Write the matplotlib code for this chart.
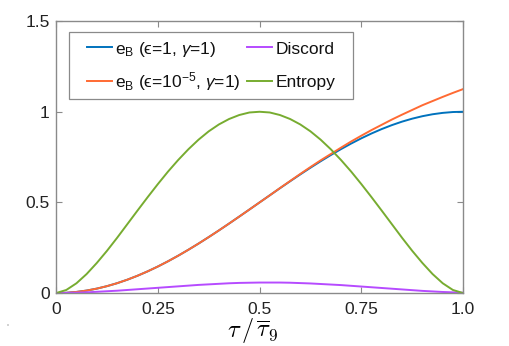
import matplotlib
matplotlib.use("Agg")
import matplotlib.pyplot as plt
from matplotlib.patches import Circle, Rectangle
from matplotlib.lines import Line2D

plt.rcParams['font.family'] = ['Liberation Sans', 'DejaVu Sans']
plt.rcParams['mathtext.fontset'] = 'custom'
plt.rcParams['mathtext.rm'] = 'Liberation Sans'
plt.rcParams['mathtext.it'] = 'Liberation Sans:italic'

t = [i * 0.025 for i in range(41)]
eB_eps1 = [0.0, 0.0015, 0.0062, 0.0138, 0.0245, 0.0381, 0.0545, 0.0737, 0.0955, 0.1198,
           0.1464, 0.1753, 0.2061, 0.2388, 0.2730, 0.3087, 0.3455, 0.3833, 0.4218, 0.4608,
           0.5, 0.5392, 0.5782, 0.6167, 0.6545, 0.6913, 0.7270, 0.7612, 0.7939, 0.8247,
           0.8536, 0.8802, 0.9045, 0.9263, 0.9455, 0.9619, 0.9755, 0.9862, 0.9938, 0.9985, 1.0]
eB_eps_small = [0.0, 0.0015, 0.0062, 0.0138, 0.0245, 0.0381, 0.0545, 0.0737, 0.0955, 0.1198,
                0.1464, 0.1753, 0.2061, 0.2388, 0.2730, 0.3087, 0.3455, 0.3833, 0.4218, 0.4608,
                0.5, 0.539, 0.579, 0.618, 0.657, 0.695, 0.732, 0.767, 0.802, 0.836,
                0.868, 0.899, 0.928, 0.957, 0.984, 1.010, 1.036, 1.059, 1.082, 1.104, 1.125]
discord = [0.0, 0.0005, 0.002, 0.004, 0.007, 0.010, 0.013, 0.017, 0.021, 0.025,
           0.029, 0.033, 0.037, 0.041, 0.045, 0.048, 0.051, 0.054, 0.056, 0.057,
           0.058, 0.058, 0.058, 0.057, 0.055, 0.053, 0.050, 0.047, 0.044, 0.040,
           0.036, 0.032, 0.028, 0.024, 0.020, 0.016, 0.012, 0.009, 0.006, 0.004, 0.002]
entropy = [0.0, 0.017, 0.054, 0.105, 0.166, 0.233, 0.305, 0.380, 0.455, 0.529,
           0.601, 0.670, 0.734, 0.793, 0.846, 0.892, 0.930, 0.960, 0.982, 0.996,
           1.0, 0.996, 0.982, 0.960, 0.930, 0.892, 0.846, 0.793, 0.734, 0.670,
           0.601, 0.529, 0.455, 0.380, 0.305, 0.233, 0.166, 0.105, 0.054, 0.017, 0.0]

labels = ['e$_\\mathrm{B}$ (ϵ=1, $\\gamma$=1)',
          'e$_\\mathrm{B}$ (ϵ=10$^{-5}$, $\\gamma$=1)',
          'Discord', 'Entropy']
colors = ['#0072BD', '#FF6A33', '#B64BFF', '#77AC30']
xticks = [0, 0.25, 0.5, 0.75, 1.0]
xticklabels = ['0', '0.25', '0.5', '0.75', '1.0']
yticks = [0, 0.5, 1, 1.5]
yticklabels = ['0', '0.5', '1', '1.5']

W, H = 510, 346
fig = plt.figure(figsize=(W / 100, H / 100), dpi=100)
ax = fig.add_axes([0.110, 0.153, 0.798, 0.786])

lw = 1.4
series = [eB_eps1, eB_eps_small, discord, entropy]
for ys, c, lab in zip(series, colors, labels):
    ax.plot(t, ys, color=c, lw=lw, label=lab)

ax.set_xlim(0, 1)
ax.set_ylim(0, 1.5)
ax.set_xticks(xticks)
ax.set_xticklabels(xticklabels)
ax.set_yticks(yticks)
ax.set_yticklabels(yticklabels)

axcol = '#8a8a8a'
for s in ax.spines.values():
    s.set_color(axcol)
    s.set_linewidth(1.0)
ax.tick_params(direction='in', top=True, right=True, length=4, width=0.8,
               color=axcol, labelsize=12.5, labelcolor='#222222')
ax.tick_params(axis='x', pad=6.5)
ax.tick_params(axis='y', pad=4.5)

ax.set_xlabel('$\\tau\\,/\\,\\overline{\\tau}_9$', fontsize=17.5, math_fontfamily='cm')
ax.xaxis.set_label_coords(0.484, -0.084)

# legend (2 columns, drawn in figure pixel coordinates)
def fx(px):
    return px / W

def fy(py):
    return 1 - py / H

tf = fig.transFigure
fig.add_artist(Rectangle((fx(69), fy(99)), fx(353) - fx(69), fy(31.7) - fy(99),
                         transform=tf, facecolor='white', edgecolor='#8a8a8a',
                         lw=0.9, zorder=5))
entries = [(0, 86.7, 46.7, 115, 54.3), (1, 86.7, 80.7, 115, 87.0),
           (2, 247, 46.7, 276, 54.3), (3, 247, 80.7, 276, 87.0)]
for i, x0, ly, tx, ty in entries:
    fig.add_artist(Line2D([fx(x0), fx(x0 + 25.5)], [fy(ly), fy(ly)], transform=tf,
                          color=colors[i], lw=lw, zorder=6))
    fig.text(fx(tx), fy(ty), labels[i], fontsize=12.5, ha='left', va='baseline',
             color='#111111', zorder=7)

fig.add_artist(Circle((fx(8), fy(325)), 0.002, transform=tf, color='#b0b0b0', lw=0))

fig.savefig('out.png', dpi=100)
